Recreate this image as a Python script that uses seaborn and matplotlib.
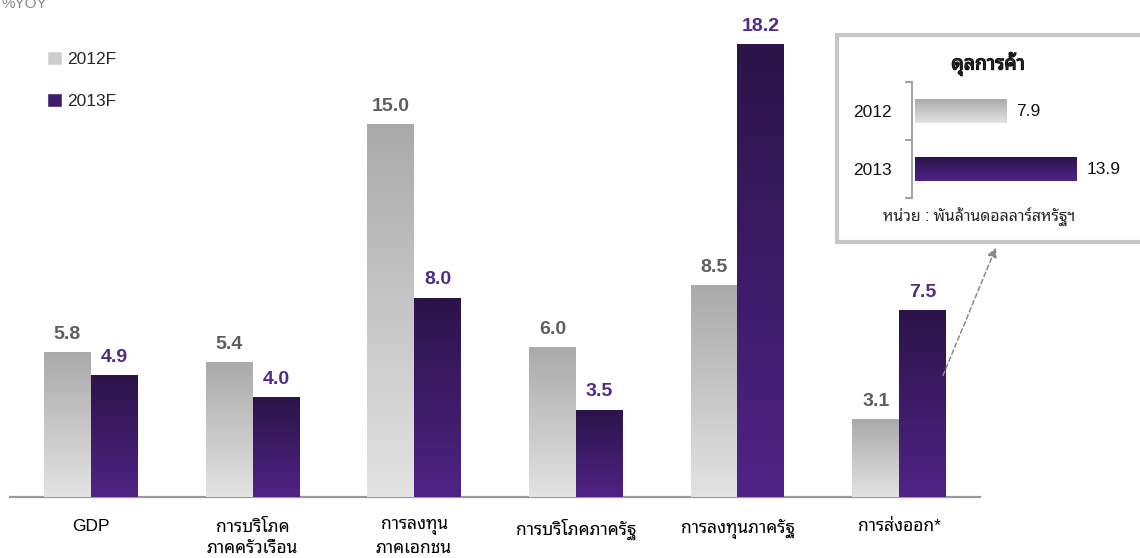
import matplotlib
matplotlib.use("Agg")
import matplotlib.pyplot as plt
import matplotlib.colors as mcolors
import matplotlib.patheffects as pe
from matplotlib.patches import Rectangle, Patch, FancyArrowPatch
import numpy as np
import pandas as pd
import seaborn as sns

# ---------------- data ----------------
categories = ["GDP", "การบริโภค\nภาคครัวเรือน", "การลงทุน\nภาคเอกชน",
              "การบริโภคภาครัฐ", "การลงทุนภาครัฐ", "การส่งออก*"]
series = ["2012F", "2013F"]
values_2012 = [5.8, 5.4, 15.0, 6.0, 8.5, 3.1]
values_2013 = [4.9, 4.0, 8.0, 3.5, 18.2, 7.5]

inset_years = ["2012", "2013"]
inset_values = [7.9, 13.9]
inset_title = "ดุลการค้า"
inset_unit = "หน่วย : พันล้านดอลลาร์สหรัฐฯ"
y_unit = "%YOY"

# ---------------- style ----------------
sns.set_theme(style="white")
FONTS = ["Liberation Sans", "Noto Sans Thai Looped", "Sarabun",
         "Noto Sans Thai", "Bai Jamjuree", "DejaVu Sans"]
plt.rcParams["font.family"] = FONTS

GRAY_TOP, GRAY_BOT = "#aaaaaa", "#e3e3e3"
PURP_TOP, PURP_BOT = "#2b1449", "#4f2386"
GRAY_LBL, PURP_LBL = "#5e5e5e", "#512b8a"

W, H = 1140, 558
fig = plt.figure(figsize=(W / 100, H / 100), dpi=100)


def px_rect(left, top, right, bottom):
    return [left / W, 1 - bottom / H, (right - left) / W, (bottom - top) / H]


def grad_img(ax, x0, x1, y_top, y_bot, top_c, bot_c):
    cmap = mcolors.LinearSegmentedColormap.from_list("g", [top_c, bot_c])
    grad = np.linspace(0, 1, 256).reshape(-1, 1)
    ax.imshow(grad, cmap=cmap, aspect="auto", origin="upper",
              extent=[x0, x1, y_bot, y_top], zorder=3,
              interpolation="bilinear")


# ---------------- main chart ----------------
df = pd.DataFrame({
    "category": categories * 2,
    "series": [series[0]] * len(categories) + [series[1]] * len(categories),
    "value": values_2012 + values_2013,
})

ax = fig.add_axes(px_rect(10, 0, 980, 497))
sns.barplot(data=df, x="category", y="value", hue="series", order=categories,
            hue_order=series, palette=[GRAY_BOT, PURP_BOT], width=0.58,
            gap=0, saturation=1, ax=ax, legend=False)

for cont, (tc, bc, lc) in zip(ax.containers,
                              [(GRAY_TOP, GRAY_BOT, GRAY_LBL),
                               (PURP_TOP, PURP_BOT, PURP_LBL)]):
    for p in cont.patches:
        x, y, w, h = p.get_x(), p.get_y(), p.get_width(), p.get_height()
        grad_img(ax, x, x + w, y + h, y, tc, bc)
    ax.bar_label(cont, fmt="%.1f", padding=7, color=lc, fontsize=14,
                 fontweight="bold")

ax.set_xlim(-0.5, 5.5)
ax.set_ylim(0, 20)
ax.set_xlabel("")
ax.set_ylabel("")
ax.set_yticks([])
for s in ["top", "right", "left"]:
    ax.spines[s].set_visible(False)
ax.spines["bottom"].set_color("#9a9a9a")
ax.spines["bottom"].set_linewidth(1.6)
ax.tick_params(axis="x", length=0, pad=16, labelsize=12.5, colors="black")
for t in ax.get_xticklabels():
    t.set_linespacing(1.5)
    t.set_verticalalignment("top")

# legend
handles = [Patch(facecolor="#cdcdcd"), Patch(facecolor="#3e1c6c")]
ax.legend(handles, series, loc="upper left",
          bbox_to_anchor=(37 / 970, 1 - 51 / 497), frameon=False,
          fontsize=12.5, handlelength=0.85, handleheight=0.85,
          handletextpad=0.3, labelspacing=1.5, borderpad=0, borderaxespad=0)

fig.text(2 / W, 1 - 8 / H, y_unit, color="#8a8a8a", fontsize=11,
         ha="left", va="baseline")

# ---------------- inset box ----------------
box = Rectangle((837 / W, 1 - 242 / H), (1150 - 837) / W, (242 - 35) / H,
                transform=fig.transFigure, fill=True, facecolor="white",
                edgecolor="#c6c6c6", linewidth=3, zorder=5, clip_on=False)
fig.patches.append(box)

iax = fig.add_axes(px_rect(912, 82, 1130, 198), zorder=6)
iax.patch.set_alpha(0)
sns.barplot(x=inset_values, y=inset_years, hue=inset_years, orient="h",
            palette=[GRAY_BOT, PURP_BOT], width=0.41, saturation=1,
            legend=False, ax=iax)
for p, (tc, bc) in zip(iax.patches, [(GRAY_TOP, GRAY_BOT), (PURP_TOP, PURP_BOT)]):
    x, y, w, h = p.get_x(), p.get_y(), p.get_width(), p.get_height()
    iax.imshow(np.linspace(0, 1, 256).reshape(-1, 1),
               cmap=mcolors.LinearSegmentedColormap.from_list("g", [tc, bc]),
               aspect="auto", origin="lower", extent=[x, x + w, y, y + h],
               zorder=3, interpolation="bilinear")
for cont in iax.containers:
    iax.bar_label(cont, fmt="%.1f", padding=7, fontsize=12.5, color="#111111")

iax.set_xlim(-0.25, 18.5)
iax.set_ylim(1.5, -0.5)
iax.set_xticks([])
iax.set_xlabel("")
iax.set_ylabel("")
for s in ["top", "right", "bottom"]:
    iax.spines[s].set_visible(False)
iax.spines["left"].set_color("#9a9a9a")
iax.spines["left"].set_linewidth(1.3)
iax.set_yticks([0, 1])
iax.set_yticklabels(inset_years)
iax.set_yticks([-0.5, 0.5, 1.5], minor=True)
iax.tick_params(axis="y", which="major", length=0, pad=14.5, labelsize=12.5,
                colors="#111111", left=True)
iax.tick_params(axis="y", which="minor", length=5, width=1.3, color="#9a9a9a",
                left=True, direction="out")

fig.text(988 / W, 1 - 64 / H, inset_title, fontsize=14, fontweight="bold",
         ha="center", va="center", zorder=7,
         path_effects=[pe.withStroke(linewidth=0.9, foreground="black")])
fig.text(979 / W, 1 - 217 / H, inset_unit, fontsize=11.4, ha="center",
         va="center", zorder=7)

# arrow from export bar to box
fig.add_artist(FancyArrowPatch(
    (942 / W, 1 - 378 / H), (997 / W, 1 - 245 / H),
    transform=fig.transFigure, arrowstyle="-|>", mutation_scale=14,
    linestyle=(0, (3, 2)), color="#8a8a8a", linewidth=1.1, zorder=8))

fig.savefig("out.png", dpi=100)
